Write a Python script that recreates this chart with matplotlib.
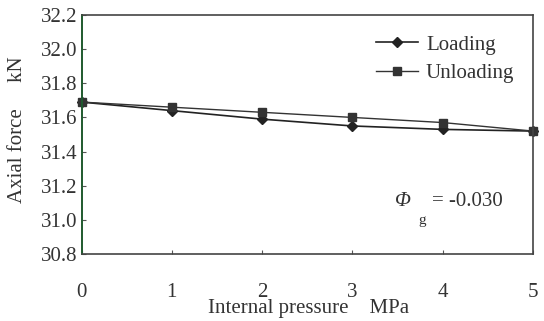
import matplotlib
matplotlib.use('Agg')
import matplotlib.pyplot as plt

plt.rcParams['font.family'] = 'Liberation Serif'

pressure = [0, 1, 2, 3, 4, 5]
loading = [31.69, 31.64, 31.59, 31.55, 31.53, 31.52]
unloading = [31.69, 31.66, 31.63, 31.60, 31.57, 31.52]
yticks = [30.8, 31.0, 31.2, 31.4, 31.6, 31.8, 32.0, 32.2]

W, H = 544, 321
txt = '#333333'
fs = 15

fig = plt.figure(figsize=(W / 100, H / 100), dpi=100)
ax = fig.add_axes([81.5 / W, 1 - 254 / H, (533 - 81.5) / W, (254 - 15) / H])

ax.plot(pressure, loading, color='#222222', linewidth=1.2,
        marker='D', markersize=5, label='Loading', clip_on=False)
ax.plot(pressure, unloading, color='#333333', linewidth=1.0,
        marker='s', markersize=5.5, label='Unloading', clip_on=False)

ax.set_xlim(0, 5)
ax.set_ylim(30.8, 32.2)
ax.set_xticks(pressure)
ax.set_yticks(yticks)
ax.set_yticklabels(['%.1f' % v for v in yticks])

ax.tick_params(axis='x', direction='in', length=3, pad=21, labelsize=fs,
               colors='#555555', labelcolor=txt)
ax.tick_params(axis='y', direction='in', length=3, pad=3, labelsize=fs,
               colors='#555555', labelcolor=txt)

for s in ['top', 'right', 'bottom']:
    ax.spines[s].set_color('#444444')
    ax.spines[s].set_linewidth(1.2)
ax.spines['left'].set_color('#1f5a2e')
ax.spines['left'].set_linewidth(1.4)

# axis titles
fig.text(309 / W, 1 - 313 / H, 'Internal pressure    MPa', fontsize=fs,
         color=txt, ha='center', va='baseline')
fig.text(18 / W, 1 - 130 / H, 'Axial force     kN', fontsize=fs,
         color=txt, ha='center', va='center', rotation=90)

leg = ax.legend(loc='upper right', bbox_to_anchor=(1.0, 0.995), frameon=False,
                fontsize=fs, handlelength=2.0, handletextpad=0.4,
                labelspacing=0.45)
for t in leg.get_texts():
    t.set_color(txt)

# phi_g annotation
fig.text(395 / W, 1 - 206 / H, '\u03a6', fontsize=fs, style='italic',
         color=txt, ha='left', va='baseline')
fig.text(418 / W, 1 - 224 / H, 'g', fontsize=11, color=txt,
         ha='left', va='baseline')
fig.text(432 / W, 1 - 206 / H, '= -0.030', fontsize=fs, color=txt,
         ha='left', va='baseline')

plt.savefig('out.png', dpi=100)
